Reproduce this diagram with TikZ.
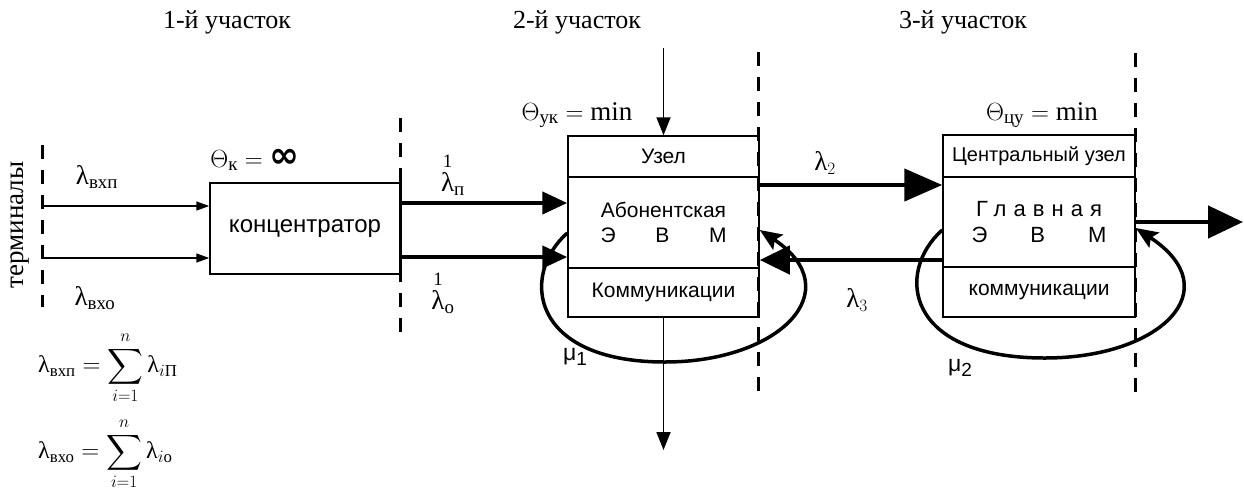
\documentclass[tikz,border=0pt]{standalone}
\usepackage{fontspec}
\usepackage{amsmath}
\setmainfont{Liberation Serif}
\newfontfamily\ar{Liberation Sans}
\newfontfamily\dv{DejaVu Sans}
\usetikzlibrary{arrows.meta}
\newcommand\lam{\text{λ}}
\begin{document}
\begin{tikzpicture}[x=1pt,y=-1pt,
  box/.style={draw,line width=1.5pt,inner sep=0pt,align=center,font=\ar\fontsize{21}{25}\selectfont},
  lab/.style={inner sep=0pt,font=\fontsize{27}{30}\selectfont},
  seclab/.style={inner sep=0pt,font=\fontsize{26}{30}\selectfont},
  sanslab/.style={inner sep=0pt,font=\ar\fontsize{23}{26}\selectfont},
  dashline/.style={line width=3pt,dash pattern=on 14pt off 11pt},
  thinarr/.style={line width=1.5pt,-{Triangle[length=13pt,width=9pt]}},
  vertarr/.style={line width=1.8pt,-{Triangle[length=18pt,width=14pt]}},
  thickarr/.style={line width=4.5pt,-{Triangle[length=25pt,width=22pt]}},
  bigarr/.style={line width=4.5pt,-{Triangle[length=38pt,width=32pt]}},
  looparr/.style={line width=3.5pt,-{Stealth[length=22pt,width=18pt,inset=4pt]}}]
\useasboundingbox (0,0) rectangle (1244,499);

% section labels
\node[seclab] (s1) at (227,22) {1-й участок};
\node[seclab] (s2) at (577,22) {2-й участок};
\node[seclab] (s3) at (963,22) {3-й участок};

% dashed boundaries
\draw[dashline] (42,145) -- (42,307);
\draw[dashline] (400,118) -- (400,343);
\draw[line width=3pt] (400,180) -- (400,280);
\draw[dashline] (758,52) -- (758,397);
\draw[dashline] (1135,53) -- (1135,397);

% boxes
\node[box,minimum width=190pt,minimum height=91pt,font=\ar\fontsize{24}{28}\selectfont] (conc) at (305,228.5) {концентратор};
\node[box,minimum width=191pt,minimum height=41pt] (uzel) at (663.5,156.5) {Узел};
\node[box,minimum width=191pt,minimum height=91pt] (abon) at (663.5,222.5)
  {Абонентская\\\makebox[126pt][s]{Э\hfill В\hfill М}};
\node[box,minimum width=191pt,minimum height=49pt] (komm) at (663.5,292.5) {Коммуникации};

\node[box,minimum width=192pt,minimum height=42pt,font=\ar\fontsize{20}{24}\selectfont] (cent) at (1039,156) {Центральный узел};
\node[box,minimum width=192pt,minimum height=90pt,font=\ar\fontsize{22}{26}\selectfont] (glav) at (1039,222)
  {{\addfontfeature{LetterSpace=32}Главная}\\\makebox[135pt][s]{Э\hfill В\hfill М}};
\node[box,minimum width=192pt,minimum height=50pt] (komm2) at (1039,292) {коммуникации};

% labels
\node[lab] (thk) at (255,160) {$\Theta_{\text{к}} = {}${\dv\bfseries\fontsize{36}{36}\selectfont ∞}};
\node[lab] (thuk) at (577,115) {$\Theta_{\text{ук}} = \text{min}$};
\node[lab] (thcu) at (1042,115) {$\Theta_{\text{цу}} = \text{min}$};
\node[lab] (lvxp) at (97,177) {$\lam_{\text{вхп}}$};
\node[lab] (lvxo) at (95,298) {$\lam_{\text{вхо}}$};
\node[lab,rotate=90] (term) at (20,225) {терминалы};
\node[lab] (lp) at (453,174) {$\overset{\text{1}}{\lam}{}_{\text{п}}$};
\node[lab] (lo) at (443,292) {$\overset{\text{1}}{\lam}{}_{\text{o}}$};
\node[lab] (l2) at (825,163) {$\lam_{2}$};
\node[lab] (l3) at (857,300) {$\lam_{3}$};
\node[sanslab] (m1) at (575,357) {μ\raisebox{-0.45ex}{\fontsize{19}{19}\selectfont 1}};
\node[sanslab] (m2) at (960,368) {μ\raisebox{-0.45ex}{\fontsize{19}{19}\selectfont 2}};

\node[lab,anchor=west,font=\fontsize{24}{28}\selectfont] (f1) at (38,368) {$\displaystyle \lam_{\text{вхп}} = \sum_{i=1}^{n}\lam_{i\text{П}}$};
\node[lab,anchor=west,font=\fontsize{24}{28}\selectfont] (f2) at (38,454) {$\displaystyle \lam_{\text{вхо}} = \sum_{i=1}^{n}\lam_{i\text{o}}$};

% connectors
\coordinate (t1) at (42,206);
\coordinate (t2) at (42,258);
\draw[thinarr] (t1) -- (conc.west |- t1);
\draw[thinarr] (t2) -- (conc.west |- t2);
\draw[thickarr] (conc.east |- 0,203) -- (abon.west |- 0,203);
\draw[thickarr] (conc.east |- 0,257) -- (abon.west |- 0,257);
\coordinate (topin) at (663.5,48);
\draw[vertarr] (topin) -- (uzel.north);
\coordinate (botout) at (663.5,450);
\draw[vertarr] (komm.south) -- (botout);
\draw[bigarr] (abon.east |- 0,185) -- (glav.west |- 0,185);
\draw[line width=4.5pt,-{Triangle[length=30pt,width=28pt]}] (glav.west |- 0,260) -- (abon.east |- 0,260);
\coordinate (out) at (1243,222);
\draw[line width=4.5pt,-{Triangle[length=35pt,width=32pt]}] (glav.east) -- (out);

\draw[looparr] (abon.west |- 0,233) .. controls (520,275) and (530,362) .. (665,362)
  .. controls (780,362) and (850,290) .. (abon.east |- 0,230);
\draw[looparr] (glav.west |- 0,230) .. controls (895,272) and (905,358) .. (1045,358)
  .. controls (1160,358) and (1230,290) .. (glav.east |- 0,228);
\end{tikzpicture}
\end{document}
